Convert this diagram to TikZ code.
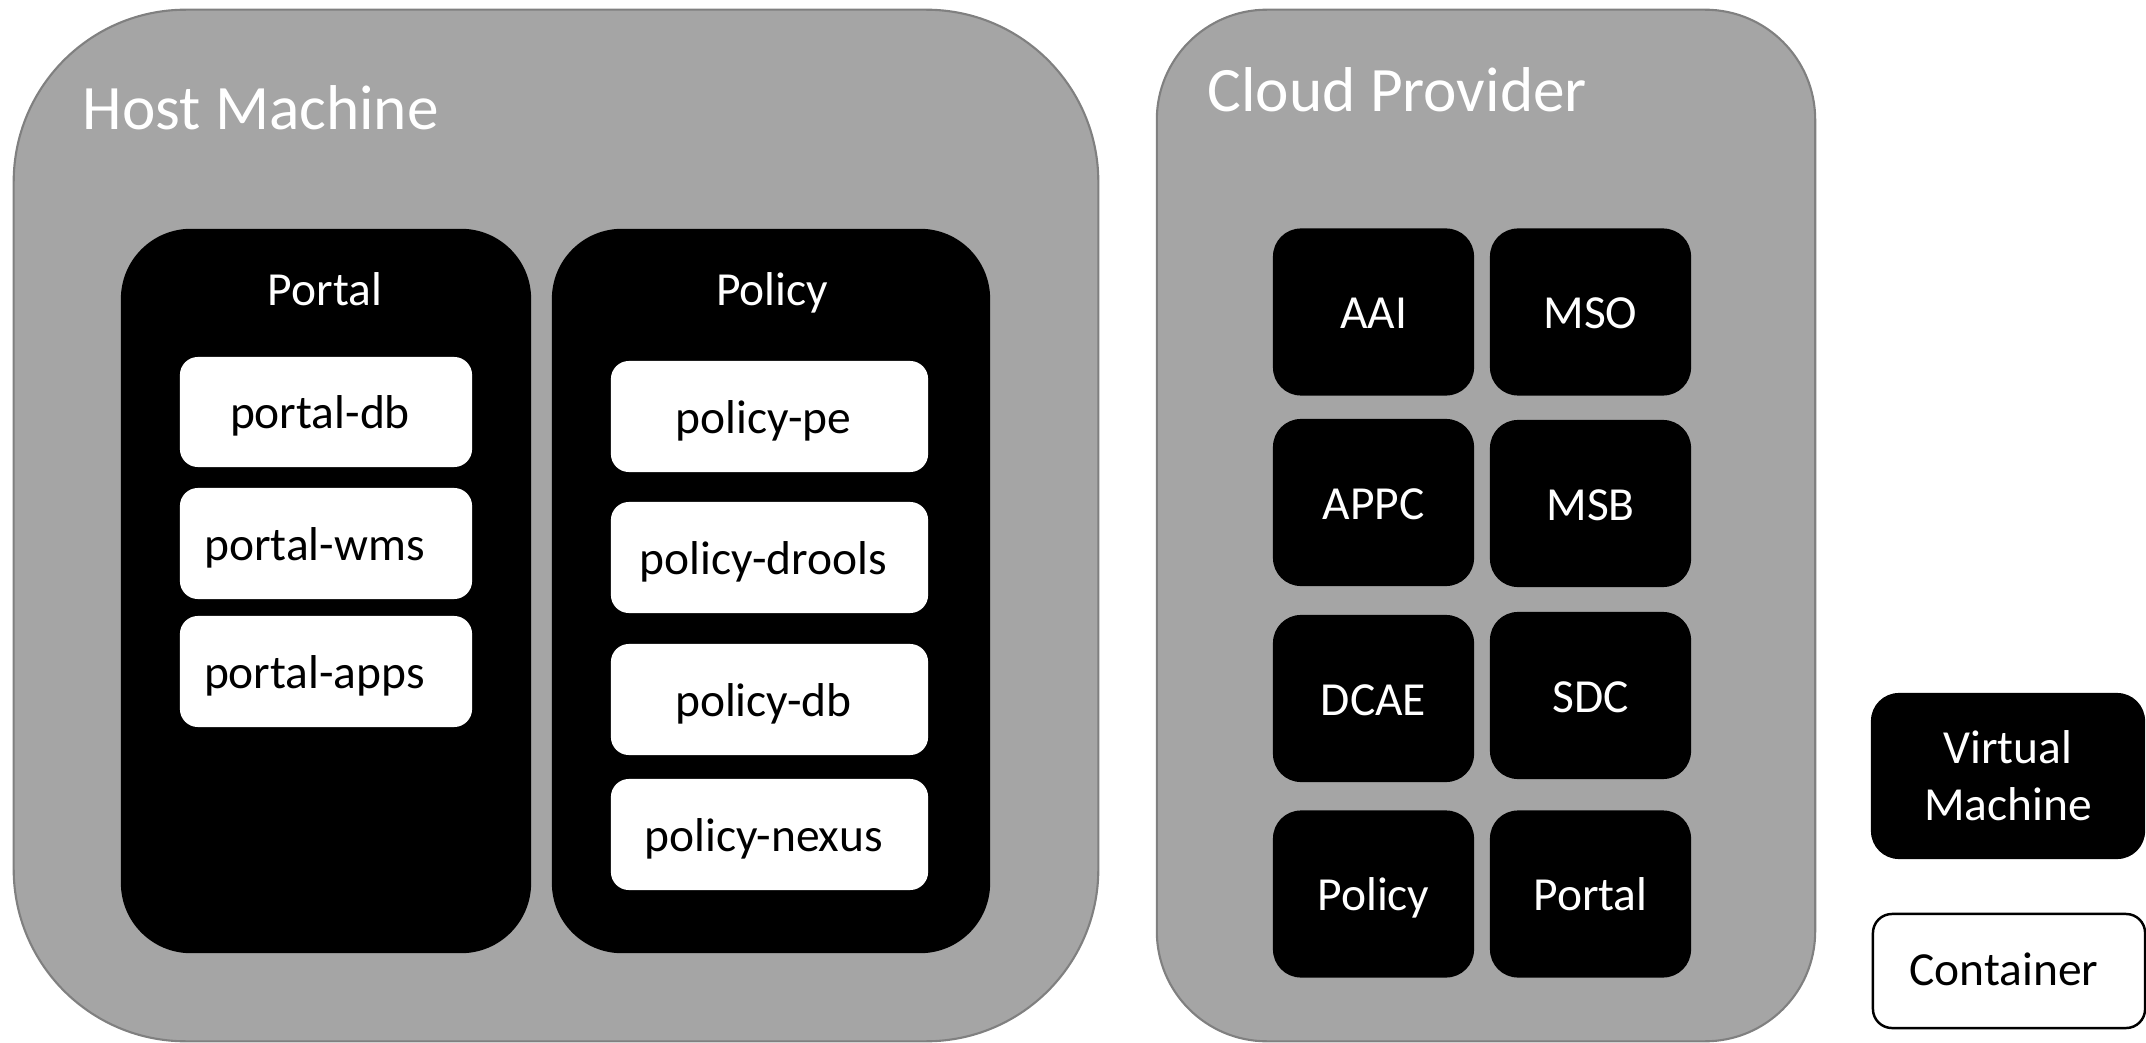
\documentclass[tikz,border=0pt]{standalone}
\usepackage{fontspec}
\setmainfont{Carlito}
\definecolor{hostgray}{RGB}{165,165,165}
\definecolor{edgegray}{RGB}{128,128,128}
\tikzset{
  zone/.style={draw=edgegray, line width=0.6pt, fill=hostgray, inner sep=0pt, outer sep=0pt},
  zonetitle/.style={text=white, inner sep=0pt, font=\fontsize{18}{21.6}\selectfont},
  vm/.style={fill=black, text=white, inner sep=0pt, outer sep=0pt,
    font=\fontsize{13.5}{16.2}\selectfont, text height=9.5pt, text depth=0pt},
  vmtitle/.style={text=white, inner sep=0pt, font=\fontsize{13.5}{16.2}\selectfont},
  ctr/.style={fill=white, text=black, inner sep=0pt, outer sep=0pt,
    font=\fontsize{13.5}{16.2}\selectfont, text height=9.5pt, text depth=0pt,
    rounded corners=0.18cm},
  cloudvm/.style={vm, minimum width=2.01cm, minimum height=1.67cm, rounded corners=0.28cm},
}
\begin{document}
\begin{tikzpicture}[x=0.01cm, y=-0.01cm]
\useasboundingbox (0,0) rectangle (2146,1043);

% ---- outer zones ----
\node[zone, minimum width=10.84cm, minimum height=10.31cm, rounded corners=1.72cm]
  (host) at (556,525.5) {};
\node[zonetitle, anchor=base west] (hosttitle) at (82,130) {Host Machine};

\node[zone, minimum width=6.58cm, minimum height=10.31cm, rounded corners=1.10cm]
  (cloud) at (1486,525.5) {};
\node[zonetitle, anchor=base west] (cloudtitle) at (1207,112) {Cloud Provider};

% ---- host machine: Portal VM ----
\node[vm, minimum width=4.10cm, minimum height=7.24cm, rounded corners=0.70cm]
  (portalvm) at (326,591) {};
\node[vmtitle, anchor=base] (portaltitle) at (325,306) {Portal};
\node[ctr, minimum width=2.92cm, minimum height=1.10cm] (portaldb)   at (326,412)   {portal-db\kern0.12cm};
\node[ctr, minimum width=2.92cm, minimum height=1.11cm] (portalwms)  at (326,543.5) {portal-wms\kern0.23cm};
\node[ctr, minimum width=2.92cm, minimum height=1.11cm] (portalapps) at (326,671.5) {portal-apps\kern0.23cm};

% ---- host machine: Policy VM ----
\node[vm, minimum width=4.38cm, minimum height=7.24cm, rounded corners=0.70cm]
  (policyvm) at (771,591) {};
\node[vmtitle, anchor=base] (policytitle) at (772,306) {Policy};
\node[ctr, minimum width=3.17cm, minimum height=1.11cm] (policype)     at (769.5,416.5) {policy-pe\kern0.12cm};
\node[ctr, minimum width=3.17cm, minimum height=1.11cm] (policydrools) at (769.5,557.5) {policy-drools\kern0.12cm};
\node[ctr, minimum width=3.17cm, minimum height=1.11cm] (policydb)     at (769.5,699.5) {policy-db\kern0.12cm};
\node[ctr, minimum width=3.17cm, minimum height=1.11cm] (policynexus)  at (769.5,834.5) {policy-nexus\kern0.12cm};

% ---- cloud provider VMs ----
\node[cloudvm] (aai)    at (1373.5,312)   {AAI};
\node[cloudvm] (mso)    at (1590.5,312)   {MSO};
\node[cloudvm] (appc)   at (1373.5,502.5) {APPC};
\node[cloudvm] (msb)    at (1590.5,503.5) {MSB};
\node[cloudvm] (dcae)   at (1373.5,698.5) {DCAE};
\node[cloudvm] (sdc)    at (1590.5,695.5) {SDC};
\node[cloudvm] (cpolicy) at (1373.5,894)  {Policy};
\node[cloudvm] (cportal) at (1590.5,894)  {Portal};

% ---- legend ----
\node[fill=black, text=white, inner sep=0pt, outer sep=0pt, align=center,
  font=\fontsize{13.5}{16.2}\selectfont,
  minimum width=2.74cm, minimum height=1.66cm, rounded corners=0.28cm]
  (legvm) at (2008,776) {Virtual\\Machine};
\node[draw=black, line width=0.7pt, fill=white, inner sep=0pt, outer sep=0pt,
  font=\fontsize{13.5}{16.2}\selectfont, text height=9.5pt, text depth=1pt,
  minimum width=2.72cm, minimum height=1.14cm, rounded corners=0.19cm]
  (legctr) at (2009,971) {Container\kern0.1cm};
\end{tikzpicture}
\end{document}
